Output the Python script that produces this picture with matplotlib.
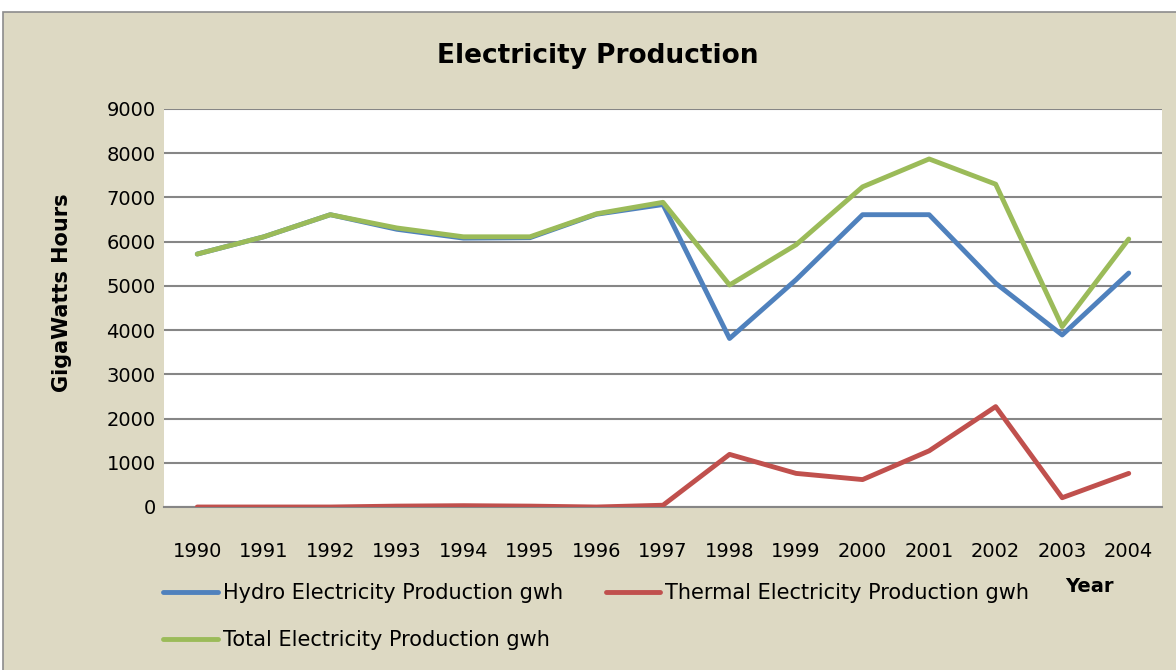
import numpy as np
import matplotlib
matplotlib.use("Agg")
import matplotlib.pyplot as plt
from matplotlib.patches import Rectangle

years = ["1990", "1991", "1992", "1993", "1994", "1995", "1996", "1997",
         "1998", "1999", "2000", "2001", "2002", "2003", "2004"]
hydro = [5720, 6110, 6610, 6280, 6080, 6090, 6620, 6840,
         3810, 5140, 6610, 6610, 5060, 3890, 5290]
thermal = [0, 0, 0, 20, 30, 20, 0, 40,
           1190, 760, 620, 1270, 2270, 210, 760]
total = [5720, 6110, 6610, 6310, 6110, 6110, 6630, 6890,
         5020, 5930, 7240, 7870, 7300, 4080, 6060]

tan = "#DDD9C3"
grid = "#868686"

fig = plt.figure(figsize=(11.76, 6.7), dpi=100, facecolor="white")
# chart area background with thin gray border
fig.patches.append(Rectangle((3 / 1176, -0.01), 1.02, 1 - 12 / 670 + 0.01,
                             transform=fig.transFigure, facecolor=tan,
                             edgecolor="#8C8C8C", lw=1.2, zorder=-10))

ax = fig.add_axes([164 / 1176, 1 - 507 / 670, 998 / 1176, 398 / 670])
ax.set_facecolor("white")
x = np.arange(len(years))
kw = dict(lw=3.5, solid_joinstyle="round", solid_capstyle="round")
l_hydro, = ax.plot(x, hydro, color="#4F81BD", label="Hydro Electricity Production gwh",
                   zorder=3, **kw)
l_thermal, = ax.plot(x, thermal, color="#C0504D", label="Thermal Electricity Production gwh",
                     zorder=3, **kw)
l_total, = ax.plot(x, total, color="#9BBB59", label="Total Electricity Production gwh",
                   zorder=4, **kw)

ax.set_xlim(-0.5, len(years) - 0.5)
ax.set_ylim(0, 9000)
ax.set_yticks(np.arange(0, 9001, 1000))
ax.set_xticks(x)
ax.set_xticklabels(years)
ax.yaxis.grid(True, color=grid, lw=1.5)
ax.set_axisbelow(True)
for s in ["top", "right", "left"]:
    ax.spines[s].set_visible(False)
ax.spines["bottom"].set_color(grid)
ax.spines["bottom"].set_linewidth(1.5)
ax.tick_params(axis="both", length=0, labelsize=14)
ax.tick_params(axis="x", pad=25)
ax.tick_params(axis="y", pad=6)

fig.text(598 / 1176, 1 - 56 / 670, "Electricity Production", ha="center", va="center",
         fontsize=19, fontweight="bold")
fig.text(62 / 1176, 1 - 293 / 670, "GigaWatts Hours", ha="center", va="center",
         rotation=90, fontsize=15, fontweight="bold")
fig.text(1089 / 1176, 1 - 587 / 670, "Year", ha="center", va="center",
         fontsize=14, fontweight="bold")

# row-wise order: hydro, thermal on first row, total below
fig.legend([l_hydro, l_total, l_thermal],
           [l_hydro.get_label(), l_total.get_label(), l_thermal.get_label()],
           loc="upper left", bbox_to_anchor=(153 / 1176, 1 - 573 / 670), ncol=2,
           frameon=False, fontsize=15, handlelength=2.6, handletextpad=0.25,
           columnspacing=2.05, labelspacing=1.3, borderpad=0)

fig.savefig("out.png", dpi=100, facecolor=fig.get_facecolor())
